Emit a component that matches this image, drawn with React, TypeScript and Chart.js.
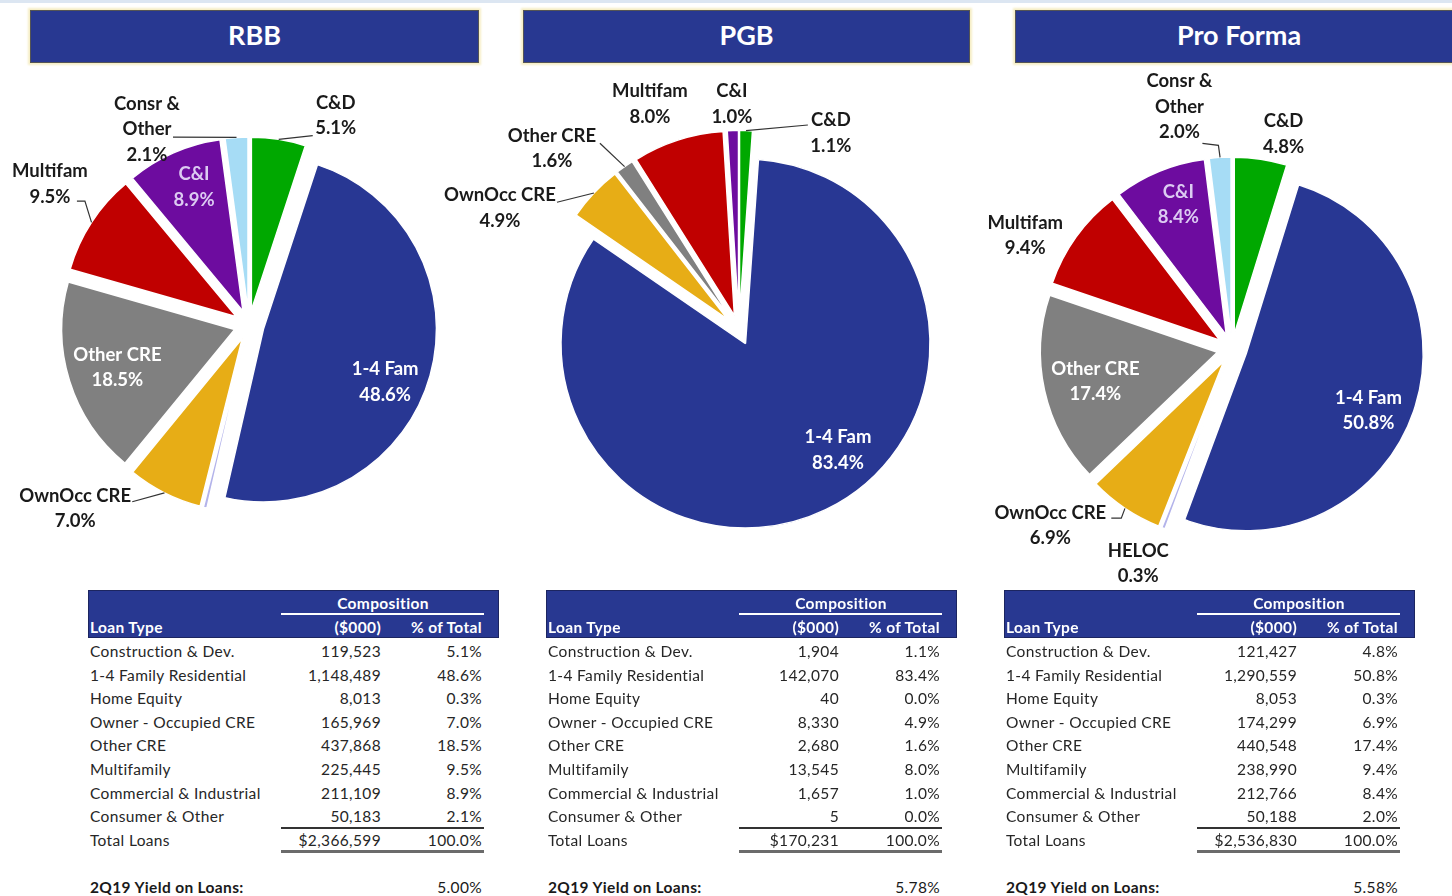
import React, { useEffect, useRef } from 'react';
import { Chart, registerables, ArcElement, PieController } from 'chart.js';

Chart.register(...registerables);

class ExplodedArc extends ArcElement {
  static id = 'explodedArc';
  static defaults = { explode: 0 };
  draw(ctx: CanvasRenderingContext2D) {
    const e = (this as any).options.explode || 0;
    const mid = ((this as any).startAngle + (this as any).endAngle) / 2;
    ctx.save();
    ctx.translate(Math.cos(mid) * e, Math.sin(mid) * e);
    super.draw(ctx);
    ctx.restore();
  }
}
class ExplodedPieController extends PieController {
  static id = 'explodedPie';
  static defaults = { dataElementType: 'explodedArc' };
}
Chart.register(ExplodedArc as any, ExplodedPieController as any);

// ---------- data ----------
const sliceNames = ['C&D', '1-4 Fam', 'HELOC', 'OwnOcc CRE', 'Other CRE', 'Multifam', 'C&I', 'Consr & Other'];
const sliceNameLines = [['C&D'], ['1-4 Fam'], ['HELOC'], ['OwnOcc CRE'], ['Other CRE'], ['Multifam'], ['C&I'], ['Consr &', 'Other']];
const rowLabels = [
  'Construction & Dev.',
  '1-4 Family Residential',
  'Home Equity',
  'Owner - Occupied CRE',
  'Other CRE',
  'Multifamily',
  'Commercial & Industrial',
  'Consumer & Other',
];
const panelTitles = ['RBB', 'PGB', 'Pro Forma'];
const rbbValues = [119523, 1148489, 8013, 165969, 437868, 225445, 211109, 50183];
const pgbValues = [1904, 142070, 40, 8330, 2680, 13545, 1657, 5];
const pfValues = [121427, 1290559, 8053, 174299, 440548, 238990, 212766, 50188];
const rbbPct = [5.1, 48.6, 0.3, 7.0, 18.5, 9.5, 8.9, 2.1];
const pgbPct = [1.1, 83.4, 0.0, 4.9, 1.6, 8.0, 1.0, 0.0];
const pfPct = [4.8, 50.8, 0.3, 6.9, 17.4, 9.4, 8.4, 2.0];
const yieldLabel = '2Q19 Yield on Loans:';
const yields = ['5.00%', '5.78%', '5.58%'];

// ---------- styles ----------
const sliceColors = ['#00a800', '#283793', '#b3b3ea', '#e7ad16', '#808080', '#c00000', '#6d0c9f', '#a6dcf5'];
const NAVY = '#283891';
const LAV = '#dccbf2';

type LabelSpec = { a: number; r: number; color?: string; leader?: { from: [number, number]; elbow?: [number, number] } } | null;

const rbbLabels: LabelSpec[] = [
  { a: 22.5, r: 1.31, leader: { from: [-23, 20] } },
  { a: 112.7, r: 0.853, color: '#fff' },
  null,
  { a: 223.4, r: 1.462, leader: { from: [57, -7] } },
  { a: 252.0, r: 0.8, color: '#fff' },
  { a: 305.3, r: 1.41, leader: { from: [27, 17], elbow: [35, 17] } },
  { a: 338.3, r: 0.859, color: LAV },
  { a: 332.5, r: 1.277, leader: { from: [26, 8] } },
];
const pgbLabels: LabelSpec[] = [
  { a: 25.0, r: 1.178, leader: { from: [-23, -8] } },
  { a: 140.5, r: 0.843, color: '#fff' },
  null,
  { a: 297.0, r: 1.454, leader: { from: [57, -6] } },
  { a: 314.1, r: 1.412, leader: { from: [48, -5.5] } },
  { a: 338.5, r: 1.317 },
  { a: 358.2, r: 1.225 },
  null,
];
const pfLabels: LabelSpec[] = [
  { a: 13.5, r: 1.248 },
  { a: 114.2, r: 0.845, color: '#fff' },
  { a: 203.6, r: 1.323 },
  { a: 225.8, r: 1.432, leader: { from: [61, -7.5], elbow: [71, -7.5] } },
  { a: 256.7, r: 0.793, color: '#fff' },
  { a: 298.8, r: 1.333 },
  { a: 339.6, r: 0.87, color: LAV },
  { a: 347.75, r: 1.4, leader: { from: [23, 36.5], elbow: [39, 38.5] } },
];

type PieProps = {
  values: number[];
  pcts: number[];
  labels: LabelSpec[];
  radius: number;
  explode: number;
  left: number;
  top: number;
  width: number;
  height: number;
};

function PiePanel({ values, pcts, labels, radius, explode, left, top, width, height }: PieProps) {
  const ref = useRef<HTMLCanvasElement>(null);
  useEffect(() => {
    const canvas = ref.current;
    if (!canvas) return;
    const labelPlugin = {
      id: 'sliceLabels',
      afterDatasetsDraw(chart: any) {
        const ctx: CanvasRenderingContext2D = chart.ctx;
        const meta = chart.getDatasetMeta(0);
        ctx.save();
        ctx.font = '700 18.5px Lato, sans-serif';
        ctx.textAlign = 'center';
        ctx.textBaseline = 'middle';
        meta.data.forEach((arc: any, i: number) => {
          const spec = labels[i];
          if (!spec) return;
          const { x, y, outerRadius, startAngle, endAngle } = arc;
          const th = ((spec.a - 90) * Math.PI) / 180;
          const lx = x + Math.cos(th) * spec.r * outerRadius;
          const ly = y + Math.sin(th) * spec.r * outerRadius;
          const lines = [...sliceNameLines[i], pcts[i].toFixed(1) + '%'];
          const lh = 25.5;
          ctx.fillStyle = spec.color || '#1a1a1a';
          lines.forEach((t, k) => ctx.fillText(t, lx, ly + (k - (lines.length - 1) / 2) * lh));
          if (spec.leader) {
            const mid = (startAngle + endAngle) / 2;
            const ex = x + Math.cos(mid) * (explode + outerRadius);
            const ey = y + Math.sin(mid) * (explode + outerRadius);
            ctx.beginPath();
            ctx.strokeStyle = '#333';
            ctx.lineWidth = 1.2;
            ctx.moveTo(lx + spec.leader.from[0], ly + spec.leader.from[1]);
            if (spec.leader.elbow) ctx.lineTo(lx + spec.leader.elbow[0], ly + spec.leader.elbow[1]);
            ctx.lineTo(ex, ey);
            ctx.stroke();
          }
        });
        ctx.restore();
      },
    };
    const chart = new Chart(canvas, {
      type: 'explodedPie' as any,
      data: {
        labels: sliceNames,
        datasets: [
          {
            data: values,
            backgroundColor: sliceColors,
            borderColor: '#ffffff',
            borderWidth: 1.5,
            explode,
            radius,
          } as any,
        ],
      },
      options: {
        responsive: false,
        animation: false,
        events: [],
        layout: { padding: 0 },
        plugins: { legend: { display: false }, tooltip: { enabled: false } },
      } as any,
      plugins: [labelPlugin],
    });
    return () => chart.destroy();
  }, []);
  return (
    <canvas
      ref={ref}
      width={width}
      height={height}
      style={{ position: 'absolute', left, top, width, height }}
    />
  );
}

function fmt(n: number) {
  return n.toLocaleString('en-US');
}

function LoanTable({ left, values, pcts, yieldText }: { left: number; values: number[]; pcts: number[]; yieldText: string }) {
  const total = values.reduce((s, v) => s + v, 0);
  const rowY = (i: number) => 651 + i * 23.6;
  const txt = (x: number, yc: number, s: string, align: 'left' | 'right' | 'center', style: React.CSSProperties = {}, w = 240) => {
    const base: React.CSSProperties = {
      position: 'absolute',
      top: yc - 10,
      height: 20,
      lineHeight: '20px',
      whiteSpace: 'nowrap',
      fontSize: 15.5,
      letterSpacing: 0.35,
      color: '#262626',
      ...style,
    };
    if (align === 'left') return <div style={{ ...base, left: x }}>{s}</div>;
    if (align === 'right') return <div style={{ ...base, left: x - w, width: w, textAlign: 'right' }}>{s}</div>;
    return <div style={{ ...base, left: x - w / 2, width: w, textAlign: 'center' }}>{s}</div>;
  };
  const L = left;
  return (
    <>
      <div
        style={{
          position: 'absolute',
          left: L,
          top: 590,
          width: 411,
          height: 48,
          background: NAVY,
          border: '1px solid #1c2560',
          boxSizing: 'border-box',
        }}
      />
      {txt(L + 295, 603, 'Composition', 'center', { color: '#fff', fontWeight: 700 })}
      <div style={{ position: 'absolute', left: L + 193, top: 613, width: 203, height: 2, background: '#fff' }} />
      {txt(L + 2, 627, 'Loan Type', 'left', { color: '#fff', fontWeight: 700 })}
      {txt(L + 293, 627, '($000)', 'right', { color: '#fff', fontWeight: 700 })}
      {txt(L + 394, 627, '% of Total', 'right', { color: '#fff', fontWeight: 700 })}
      {rowLabels.map((lab, i) => (
        <React.Fragment key={i}>
          {txt(L + 2, rowY(i), lab, 'left')}
          {txt(L + 293, rowY(i), fmt(values[i]), 'right')}
          {txt(L + 394, rowY(i), pcts[i].toFixed(1) + '%', 'right')}
        </React.Fragment>
      ))}
      <div style={{ position: 'absolute', left: L + 193, top: 827, width: 203, height: 1.5, background: '#333' }} />
      {txt(L + 2, 840, 'Total Loans', 'left')}
      {txt(L + 293, 840, '$' + fmt(total), 'right')}
      {txt(L + 394, 840, '100.0%', 'right')}
      <div style={{ position: 'absolute', left: L + 193, top: 850, width: 203, height: 3, background: '#6b6b6b' }} />
      {txt(L + 2, 887, yieldLabel, 'left', { fontWeight: 700, color: '#1a1a1a' })}
      {txt(L + 394, 887, yieldText, 'right', { color: '#1a1a1a' })}
    </>
  );
}

function HeaderBar({ left, width, title }: { left: number; width: number; title: string }) {
  return (
    <div
      style={{
        position: 'absolute',
        left,
        top: 10,
        width,
        height: 53,
        background: NAVY,
        border: '1px solid #555',
        boxShadow: '0 0 2px 2px #f6eec6',
        boxSizing: 'border-box',
        color: '#fff',
        fontWeight: 700,
        fontSize: 27,
        paddingBottom: 4,
        display: 'flex',
        alignItems: 'center',
        justifyContent: 'center',
      }}
    >
      {title}
    </div>
  );
}

export default function App() {
  return (
    <div
      style={{
        position: 'fixed',
        left: 0,
        top: 0,
        width: 1452,
        height: 896,
        background: '#fff',
        overflow: 'hidden',
        fontFamily: 'Lato, sans-serif',
      }}
    >
      <div style={{ position: 'absolute', left: 0, top: 0, width: 1452, height: 3, background: '#dce6f2' }} />
      <HeaderBar left={30} width={449} title={panelTitles[0]} />
      <HeaderBar left={523} width={447} title={panelTitles[1]} />
      <HeaderBar left={1015} width={448} title={panelTitles[2]} />
      <PiePanel values={rbbValues} pcts={rbbPct} labels={rbbLabels} radius={173} explode={15} left={0} top={65} width={498} height={520} />
      <PiePanel values={pgbValues} pcts={pgbPct} labels={pgbLabels} radius={184.5} explode={15} left={439} top={70} width={600} height={520} />
      <PiePanel values={pfValues} pcts={pfPct} labels={pfLabels} radius={177} explode={15} left={982} top={61} width={500} height={576} />
      <LoanTable left={88} values={rbbValues} pcts={rbbPct} yieldText={yields[0]} />
      <LoanTable left={546} values={pgbValues} pcts={pgbPct} yieldText={yields[1]} />
      <LoanTable left={1004} values={pfValues} pcts={pfPct} yieldText={yields[2]} />
    </div>
  );
}
